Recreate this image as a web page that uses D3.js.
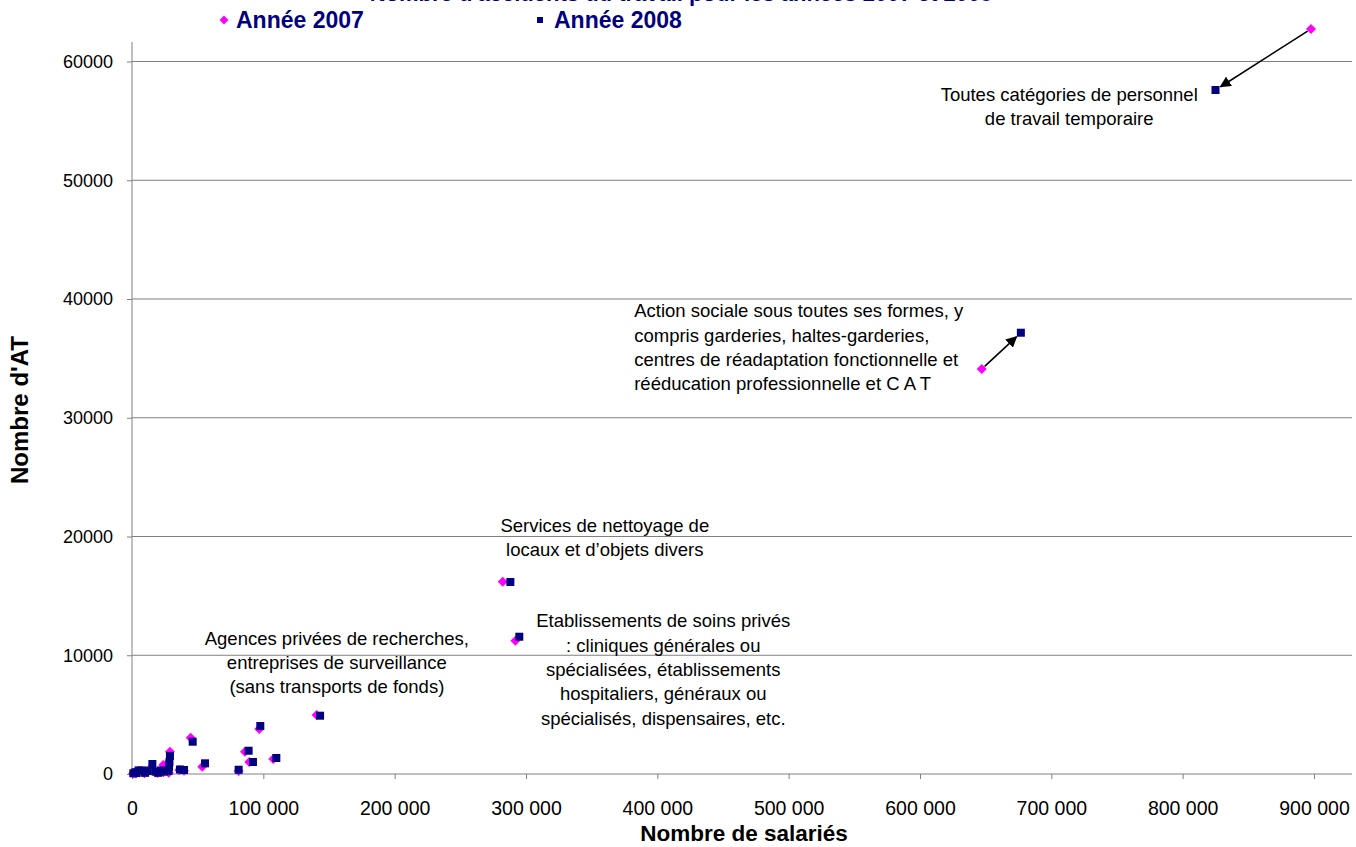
<!DOCTYPE html>
<html><head><meta charset="utf-8">
<script src="https://cdn.jsdelivr.net/npm/d3@7"></script>
<style>body{margin:0;background:#fff}svg{display:block;font-family:"Liberation Sans",Arial,sans-serif}</style>
</head><body>
<svg id="c" width="1356" height="847"></svg>
<script>
// ---- data ----
const salaries2007 = [897700,647000,282300,291900,140600,96900,86000,89300,107600,81200,44700,53500,39600,36000,28900,27000,26500,28000,15000,23800,17500,11500,7500,4500,2000,800,24000,9500,3000,19500];
const at2007       = [62740,34100,16190,11230,4970,3800,1880,1010,1260,250,3060,620,280,330,1880,900,450,100,600,760,150,250,200,250,100,40,150,60,50,80];
const salaries2008 = [825000,676800,288100,294900,143200,97700,88800,92100,109900,81200,46200,55600,39600,36500,28900,28500,28200,27800,15500,22000,18000,12000,8000,5000,2500,1000,24500,10000,3500,20000];
const at2008       = [57600,37160,16170,11560,4910,4040,1960,1010,1350,360,2720,900,340,380,1520,1000,600,250,840,300,200,250,300,300,150,60,200,100,80,100];
const xTicks = [0,100000,200000,300000,400000,500000,600000,700000,800000,900000];
const yTicks = [0,10000,20000,30000,40000,50000,60000];
const seriesNames = ["Année 2007","Année 2008"];
const chartTitle = "Nombre d'accidents du travail pour les années 2007 et 2008";
const xTitle = "Nombre de salariés";
const yTitle = "Nombre d'AT";
const annotations = [
  {lines:["Toutes catégories de personnel","de travail temporaire"], x:713600, y:57260, anchor:"middle"},
  {lines:["Action sociale sous toutes ses formes, y","compris garderies, haltes-garderies,","centres de réadaptation fonctionnelle et","rééducation professionnelle et C A T"], x:382400, y:39000, anchor:"start"},
  {lines:["Services de nettoyage de","locaux et d\u2019objets divers"], x:360000, y:20950, anchor:"middle"},
  {lines:["Etablissements de soins privés",": cliniques générales ou","spécialisées, établissements","hospitaliers, généraux ou","spécialisés, dispensaires, etc."], x:404500, y:12900, anchor:"middle"},
  {lines:["Agences privées de recherches,","entreprises de surveillance","(sans transports de fonds)"], x:156000, y:11450, anchor:"middle"}
];
const arrows = [
  {from:[897700,62740], to:[825000,57600]},
  {from:[647000,34100], to:[676800,37160]}
];

// ---- chart ----
const svg = d3.select("#c");
const pLeft=132, pRight=1352, pTop=42, pBottom=774;
const x = d3.scaleLinear().domain([0,900000]).range([132,1314]);
const y = d3.scaleLinear().domain([0,60000]).range([774,61.5]);
const fmtX = v => d3.format(",")(v).replace(/,/g," ");

svg.append("defs").append("marker").attr("id","ah").attr("viewBox","0 0 10 10")
  .attr("refX",9).attr("refY",5).attr("markerWidth",7).attr("markerHeight",7).attr("orient","auto")
  .append("path").attr("d","M0,0L10,5L0,10z").attr("fill","#000");

// grid
svg.append("g").selectAll("line").data(yTicks.filter(d=>d>0)).join("line")
  .attr("x1",pLeft).attr("x2",pRight).attr("y1",d=>y(d)).attr("y2",d=>y(d))
  .attr("stroke","#808080").attr("stroke-width",1);

// axes
const gx = svg.append("g").attr("transform",`translate(0,${pBottom})`)
  .call(d3.axisBottom(x).tickValues(xTicks).tickFormat(fmtX).tickSize(5).tickPadding(22));
gx.select(".domain").remove();
gx.append("line").attr("x1",pLeft).attr("x2",pRight).attr("stroke","#808080");
gx.selectAll(".tick line").attr("stroke","#808080").attr("stroke-width",1);
gx.selectAll("text").attr("font-size",19.5).attr("fill","#000").attr("font-family","Liberation Sans, Arial");

const gy = svg.append("g").attr("transform",`translate(${pLeft},0)`)
  .call(d3.axisLeft(y).tickValues(yTicks).tickFormat(d3.format("d")).tickSize(5).tickPadding(14));
gy.select(".domain").remove();
gy.append("line").attr("y1",pTop).attr("y2",pBottom).attr("stroke","#808080");
gy.selectAll(".tick line").attr("stroke","#808080");
gy.selectAll("text").attr("font-size",18).attr("fill","#000").attr("font-family","Liberation Sans, Arial");

// axis titles
svg.append("text").attr("x",744).attr("y",841).attr("text-anchor","middle")
  .attr("font-size",22.5).attr("font-weight","bold").text(xTitle);
svg.append("text").attr("transform","translate(28,410) rotate(-90)").attr("text-anchor","middle")
  .attr("font-size",24).attr("font-weight","bold").text(yTitle);

// title (cropped at top, as in the source)
svg.append("text").attr("x",681).attr("y",1).attr("text-anchor","middle")
  .attr("font-size",22).attr("font-weight","bold").attr("fill","#000080").text(chartTitle);

// legend
const leg = svg.append("g");
leg.append("path").attr("transform","translate(224,20)").attr("d",d3.symbol(d3.symbolDiamond2,50)).attr("fill","#FF00FF");
leg.append("text").attr("x",236).attr("y",28).attr("font-size",23).attr("font-weight","bold").attr("fill","#000080").text(seriesNames[0]);
leg.append("rect").attr("x",537).attr("y",17).attr("width",6).attr("height",6).attr("fill","#000080");
leg.append("text").attr("x",554).attr("y",28).attr("font-size",23).attr("font-weight","bold").attr("fill","#000080").text(seriesNames[1]);

// points
const d07 = salaries2007.map((v,i)=>({x:v,y:at2007[i]}));
const d08 = salaries2008.map((v,i)=>({x:v,y:at2008[i]}));
svg.append("g").selectAll("path").data(d07).join("path")
  .attr("transform",d=>`translate(${x(d.x)},${y(d.y)})`)
  .attr("d",d3.symbol(d3.symbolDiamond2,64)).attr("fill","#FF00FF");
svg.append("g").selectAll("rect").data(d08).join("rect")
  .attr("x",d=>x(d.x)-4).attr("y",d=>y(d.y)-4).attr("width",8).attr("height",8).attr("fill","#000080");

// arrows
svg.append("g").selectAll("line").data(arrows).join("line")
  .each(function(a){
    const x1=x(a.from[0]), y1=y(a.from[1]), x2=x(a.to[0]), y2=y(a.to[1]);
    const dx=x2-x1, dy=y2-y1, L=Math.hypot(dx,dy);
    const s=8/L, e=6/L;
    d3.select(this).attr("x1",x1+dx*s*0.5).attr("y1",y1+dy*s*0.5).attr("x2",x2-dx*e).attr("y2",y2-dy*e);
  })
  .attr("stroke","#000").attr("stroke-width",1.6).attr("marker-end","url(#ah)");

// annotations
annotations.forEach(a=>{
  const t = svg.append("text").attr("font-size",18.5).attr("fill","#000").attr("text-anchor",a.anchor);
  a.lines.forEach((l,i)=>t.append("tspan").attr("x",x(a.x)).attr("y",y(a.y)+6.5+i*24.3).text(l));
});
</script>
</body></html>
